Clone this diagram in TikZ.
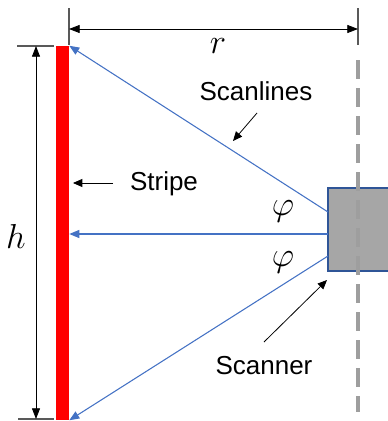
\RequirePackage{fix-cm}
\documentclass[tikz,border=0pt]{standalone}
\usepackage{fontspec}
\setmainfont{Liberation Sans}
\usetikzlibrary{positioning, arrows.meta}

\definecolor{scanblue}{HTML}{4472C4}
\definecolor{boxedge}{HTML}{2F5597}
\definecolor{boxgray}{HTML}{A6A6A6}

\begin{document}
\begin{tikzpicture}[
    x=0.75pt, y=-0.75pt,
    lbl/.style={inner sep=0pt, font=\fontsize{19.5}{22}\selectfont},
    mlbl/.style={inner sep=0pt, font=\fontsize{26}{28}\selectfont},
    stripe/.style={rectangle, fill=red, inner sep=0pt, minimum width=9.75pt, minimum height=280.5pt},
    scanner/.style={rectangle, draw=boxedge, fill=boxgray, line width=1.1pt, inner sep=0pt, minimum width=51pt, minimum height=62pt},
    dim/.style={{Triangle[length=8pt,width=6pt]}-{Triangle[length=8pt,width=6pt]}, line width=0.6pt},
    tick/.style={black!65, line width=0.8pt},
    scan/.style={-{Triangle[length=7.5pt,width=6pt]}, draw=scanblue, line width=0.8pt},
    pointer/.style={-{Triangle[length=7pt,width=6pt]}, line width=0.6pt}
]
\useasboundingbox (0,0) rectangle (388,421);

% stripe and scanner
\node[stripe] (stripe) at (62.5,233) {};
\node[scanner] (scanner) at (362,229.5) {};
\draw[black!38, line width=2.6pt, dash pattern=on 14pt off 7pt] (358,60) -- (358,412);

% dimensions
\coordinate (rleft) at (69,29);
\coordinate (rright) at (358,29);
\draw[tick] (69,8) -- (69,45);
\draw[tick] (358,8) -- (358,45);
\draw[dim] (rleft) -- (rright);
\node[mlbl] (rlbl) at (218,46) {$r$};

\coordinate (htop) at (36,46);
\coordinate (hbot) at (36,419);
\draw[tick] (17,46) -- (54,46);
\draw[tick] (18,419) -- (54,419);
\draw[dim] (htop) -- (hbot);
\node[mlbl] (hlbl) at (16,236) {$h$};

% scanlines
\coordinate (s1) at (328,212);
\coordinate (s2) at (328,234);
\coordinate (s3) at (328,256);
\draw[scan] (s1) -- (stripe.north east);
\draw[scan] (s2) -- (stripe.east |- s2);
\draw[scan] (s3) -- (stripe.south east);
\node[mlbl] (phi1) at (283,211) {$\varphi$};
\node[mlbl] (phi2) at (283,262) {$\varphi$};

% labels
\node[lbl] (scanlbl) at (256,91) {Scanlines};
\node[lbl] (stripelbl) at (164,184) {Stripe};
\node[lbl] (scannerlbl) at (264,366) {Scanner};
\coordinate (p1) at (257,113);
\coordinate (p1e) at (233,141);
\coordinate (p2) at (113,183);
\coordinate (p2e) at (73,183);
\coordinate (p3) at (264,342);
\coordinate (p3e) at (327,280);
\draw[pointer] (p1) -- (p1e);
\draw[pointer] (p2) -- (p2e);
\draw[pointer] (p3) -- (p3e);
\end{tikzpicture}
\end{document}
